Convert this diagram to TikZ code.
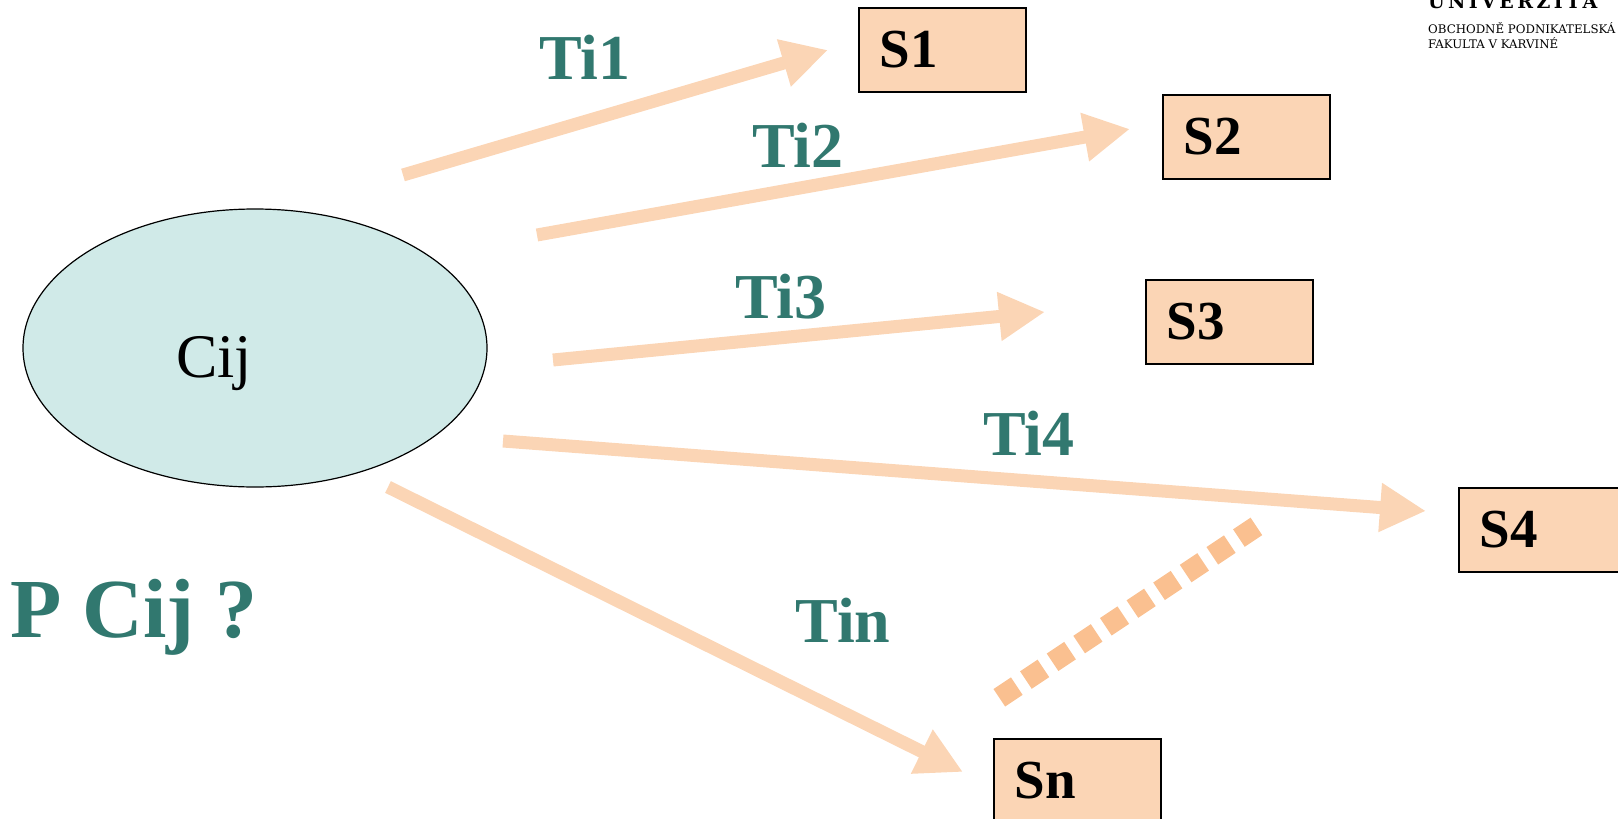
\documentclass[tikz,border=0pt]{standalone}
\usepackage{fontspec}
\setmainfont{Liberation Serif}
\newfontfamily\logofont{DejaVu Serif}
\newfontfamily\logofontsp[LetterSpace=18]{DejaVu Serif}
\usetikzlibrary{arrows.meta,shapes.geometric}
\definecolor{peach}{RGB}{251,213,181}
\definecolor{dotpeach}{RGB}{250,192,144}
\definecolor{tealtext}{RGB}{49,120,111}
\definecolor{cyanfill}{RGB}{208,234,232}
\begin{document}
\begin{tikzpicture}[x=1pt,y=-1pt,
  sbox/.style={draw=black, line width=1.5pt, fill=peach, anchor=north west,
    minimum width=167pt, minimum height=84pt, text width=125pt,
    inner xsep=21pt, inner ysep=0pt, align=left,
    font=\fontsize{55}{60}\selectfont\bfseries},
  tlabel/.style={anchor=base, inner sep=0pt, text=tealtext,
    font=\fontsize{64}{70}\selectfont\bfseries},
  conn/.style={draw=peach, line width=13pt, -{Triangle[length=46pt,width=46pt]}},
  dotline/.style={draw=dotpeach, line width=21pt, dash pattern=on 21pt off 11pt}
]
\useasboundingbox (0,0) rectangle (1618,819);
\clip (0,0) rectangle (1618,819);

% ellipse
\node[ellipse, draw=black, line width=1.2pt, fill=cyanfill, minimum width=464pt,
  minimum height=278pt, inner sep=0pt] (C) at (255,348) {};
\node[anchor=base, inner sep=0pt, font=\fontsize{62}{66}\selectfont] (cij) at (214,377) {Cij};

% boxes
\node[sbox] (s1) at (858,7) {S1};
\node[sbox] (s2) at (1162,94) {S2};
\node[sbox] (s3) at (1145,279) {S3};
\node[sbox] (s4) at (1458,487) {S4};
\node[sbox] (sn) at (993,738) {Sn};

% connector end points
\coordinate (a1s) at (403,175);  \coordinate (a1e) at (828,50);
\coordinate (a2s) at (537,235);  \coordinate (a2e) at (1130,129);
\coordinate (a3s) at (553,360);  \coordinate (a3e) at (1045,312);
\coordinate (a4s) at (503,441);  \coordinate (a4e) at (1426,511);
\coordinate (a5s) at (388,487);  \coordinate (a5e) at (963,772);
\coordinate (d1) at (999.3,697.8); \coordinate (d2) at (1256.7,526.2);

\draw[conn] (a1s) -- (a1e);
\draw[conn] (a2s) -- (a2e);
\draw[conn] (a3s) -- (a3e);
\draw[conn] (a4s) -- (a4e);
\draw[conn] (a5s) -- (a5e);
\draw[dotline] (d1) -- (d2);

% labels
\node[tlabel] (t1) at (585,79) {Ti1};
\node[tlabel] (t2) at (798,167) {Ti2};
\node[tlabel] (t3) at (781,318) {Ti3};
\node[tlabel] (t4) at (1029,455) {Ti4};
\node[tlabel] (tn) at (843,642) {Tin};

\node[anchor=base west, inner sep=0pt, text=tealtext,
  font=\fontsize{84}{90}\selectfont\bfseries] (pc) at (10,637) {P Cij ?};

% logo text
\node[anchor=base west, inner sep=0pt, font=\logofontsp\bfseries\fontsize{19}{21}\selectfont] (uni) at (1428,9) {UNIVERZITA};
\node[anchor=base west, inner sep=0pt, font=\logofont\fontsize{11.8}{13}\selectfont] (fac1) at (1428,33) {OBCHODNĚ PODNIKATELSKÁ};
\node[anchor=base west, inner sep=0pt, font=\logofont\fontsize{11.8}{13}\selectfont] (fac2) at (1428,48) {FAKULTA V KARVINÉ};
\end{tikzpicture}
\end{document}
